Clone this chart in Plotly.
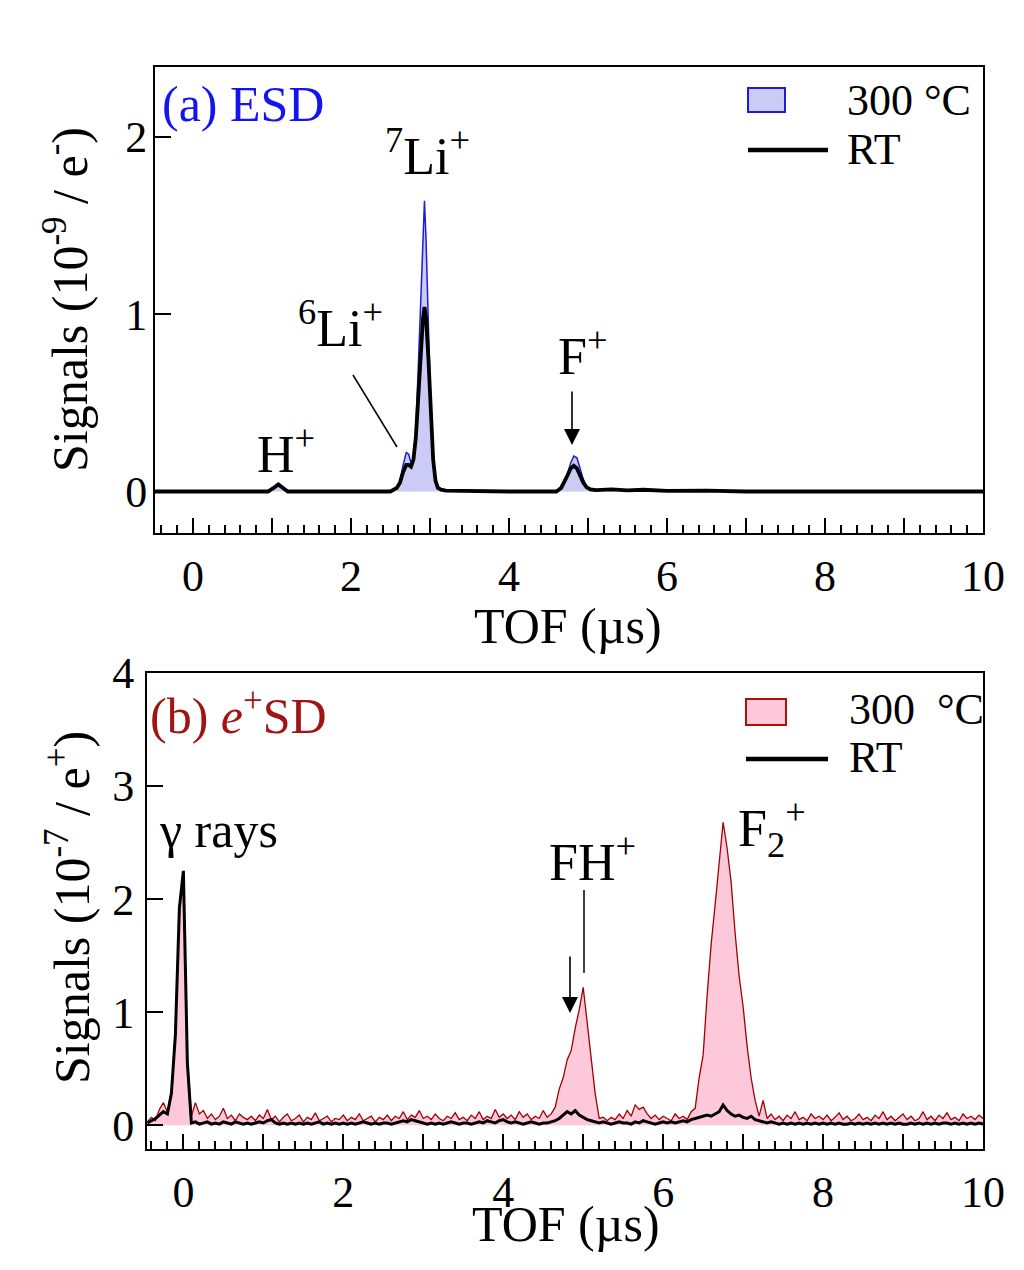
import plotly.graph_objects as go

W, H = 1024, 1270
FONT = "Liberation Serif"
PAGE_OFFSET = 8  # default body margin of the html page

# ---------------- Panel (a): ESD ----------------
TOF_A = [-0.49, 0.50, 0.95, 1.02, 1.08, 1.14, 1.20, 2.00, 2.50, 2.58,
         2.62, 2.66, 2.70, 2.73, 2.76, 2.79, 2.82, 2.85, 2.88, 2.91,
         2.93, 2.95, 2.98, 3.01, 3.04, 3.07, 3.10, 3.14, 3.20, 4.00,
         4.60, 4.66, 4.70, 4.74, 4.78, 4.82, 4.86, 4.90, 4.94, 4.98,
         5.03, 5.10, 5.30, 5.50, 5.70, 6.00, 6.50, 7.00, 8.00, 9.00, 10.00]
ESD_300C = [0.0, 0.0, 0.0, 0.02, 0.045, 0.02, 0.0, 0.0, 0.0, 0.02,
            0.06, 0.15, 0.22, 0.21, 0.16, 0.18, 0.35, 0.68, 1.05, 1.45,
            1.64, 1.42, 0.95, 0.45, 0.20, 0.08, 0.03, 0.012, 0.005, 0.0,
            0.0, 0.02, 0.05, 0.10, 0.16, 0.20, 0.19, 0.13, 0.07, 0.03,
            0.012, 0.005, 0.01, 0.005, 0.008, 0.005, 0.003, 0.0, 0.0, 0.0, 0.0]
ESD_RT = [0.0, 0.0, 0.0, 0.02, 0.04, 0.02, 0.0, 0.0, 0.0, 0.02,
          0.05, 0.11, 0.15, 0.15, 0.14, 0.18, 0.30, 0.52, 0.78, 0.97,
          1.04, 0.98, 0.75, 0.42, 0.18, 0.06, 0.02, 0.01, 0.005, 0.0,
          0.0, 0.02, 0.05, 0.09, 0.13, 0.145, 0.13, 0.09, 0.05, 0.025,
          0.012, 0.008, 0.012, 0.006, 0.01, 0.004, 0.005, 0.0, 0.0, 0.0, 0.0]

# ---------------- Panel (b): e+SD (TOF bins of 0.05 us from -0.45 us) ----------------
TOF_B_START = -0.45
TOF_B_STEP = 0.05
EPSD_300C = [
    0.03, 0.07, 0.04, 0.14, 0.20, 0.12, 0.30, 0.85, 1.95, 2.22,   # -0.45 .. 0.00
    0.60, 0.08, 0.20, 0.10, 0.13, 0.06, 0.10, 0.05, 0.08, 0.15,   # 0.05 .. 0.50
    0.06, 0.09, 0.04, 0.10, 0.07, 0.05, 0.08, 0.04, 0.09, 0.06,   # 0.55 .. 1.00
    0.14, 0.05, 0.08, 0.03, 0.07, 0.10, 0.04, 0.06, 0.09, 0.03,   # 1.05 .. 1.50
    0.07, 0.05, 0.11, 0.04, 0.06, 0.08, 0.03, 0.06, 0.05, 0.09,   # 1.55 .. 2.00
    0.04, 0.07, 0.05, 0.10, 0.04, 0.06, 0.08, 0.03, 0.07, 0.05,   # 2.05 .. 2.50
    0.09, 0.04, 0.08, 0.06, 0.12, 0.05, 0.09, 0.07, 0.13, 0.06,   # 2.55 .. 3.00
    0.08, 0.05, 0.10, 0.06, 0.04, 0.08, 0.06, 0.11, 0.05, 0.07,   # 3.05 .. 3.50
    0.04, 0.09, 0.06, 0.12, 0.05, 0.08, 0.06, 0.14, 0.07, 0.10,   # 3.55 .. 4.00
    0.06, 0.09, 0.05, 0.12, 0.07, 0.10, 0.05, 0.08, 0.06, 0.13,   # 4.05 .. 4.50
    0.07, 0.10, 0.16, 0.32, 0.42, 0.58, 0.66, 0.86, 1.02, 1.22,   # 4.55 .. 5.00
    0.92, 0.62, 0.28, 0.06, 0.07, 0.04, 0.07, 0.05, 0.10, 0.06,   # 5.05 .. 5.50
    0.13, 0.08, 0.18, 0.14, 0.16, 0.10, 0.06, 0.09, 0.05, 0.08,   # 5.55 .. 6.00
    0.06, 0.04, 0.10, 0.06, 0.08, 0.05, 0.12, 0.15, 0.42, 0.62,   # 6.05 .. 6.50
    1.15, 1.60, 1.95, 2.35, 2.68, 2.45, 2.15, 1.70, 1.32, 1.05,   # 6.55 .. 7.00
    0.70, 0.42, 0.22, 0.08, 0.22, 0.06, 0.10, 0.05, 0.08, 0.04,   # 7.05 .. 7.50
    0.09, 0.06, 0.12, 0.05, 0.07, 0.04, 0.10, 0.06, 0.08, 0.05,   # 7.55 .. 8.00
    0.09, 0.04, 0.07, 0.11, 0.05, 0.08, 0.04, 0.06, 0.10, 0.05,   # 8.05 .. 8.50
    0.07, 0.04, 0.09, 0.06, 0.12, 0.05, 0.08, 0.04, 0.07, 0.10,   # 8.55 .. 9.00
    0.05, 0.08, 0.04, 0.06, 0.12, 0.05, 0.08, 0.04, 0.09, 0.06,   # 9.05 .. 9.50
    0.11, 0.05, 0.07, 0.04, 0.10, 0.06, 0.08, 0.05, 0.09, 0.06,   # 9.55 .. 10.00
]
EPSD_RT = [
    0.02, 0.04, 0.06, 0.09, 0.12, 0.10, 0.28, 0.80, 1.92, 2.25,
    0.55, 0.02, 0.03, 0.01, 0.02, 0.03, 0.01, 0.02, 0.01, 0.03,
    0.02, 0.01, 0.03, 0.02, 0.01, 0.02, 0.01, 0.02, 0.03, 0.02,
    0.04, 0.05, 0.02, 0.01, 0.02, 0.01, 0.02, 0.01, 0.02, 0.01,
    0.02, 0.01, 0.02, 0.03, 0.01, 0.02, 0.01, 0.02, 0.01, 0.02,
    0.01, 0.02, 0.01, 0.02, 0.03, 0.02, 0.01, 0.02, 0.01, 0.02,
    0.02, 0.01, 0.02, 0.03, 0.04, 0.03, 0.05, 0.04, 0.03, 0.02,
    0.01, 0.02, 0.01, 0.02, 0.01, 0.02, 0.03, 0.02, 0.01, 0.02,
    0.02, 0.01, 0.02, 0.03, 0.02, 0.04, 0.03, 0.02, 0.04, 0.05,
    0.03, 0.02, 0.03, 0.02, 0.01, 0.02, 0.03, 0.02, 0.01, 0.02,
    0.02, 0.03, 0.04, 0.06, 0.09, 0.12, 0.10, 0.13, 0.09, 0.07,
    0.05, 0.04, 0.03, 0.02, 0.03, 0.02, 0.01, 0.02, 0.03, 0.02,
    0.02, 0.01, 0.03, 0.02, 0.04, 0.03, 0.02, 0.01, 0.02, 0.03,
    0.02, 0.03, 0.02, 0.03, 0.04, 0.03, 0.05, 0.06, 0.07, 0.08,
    0.09, 0.08, 0.10, 0.12, 0.18, 0.13, 0.10, 0.08, 0.09, 0.07,
    0.06, 0.08, 0.05, 0.04, 0.03, 0.02, 0.03, 0.02, 0.01, 0.02,
    0.01, 0.02, 0.01, 0.02, 0.01, 0.02, 0.01, 0.02, 0.01, 0.02,
    0.01, 0.02, 0.01, 0.02, 0.01, 0.01, 0.02, 0.01, 0.02, 0.01,
    0.02, 0.01, 0.02, 0.01, 0.02, 0.01, 0.02, 0.01, 0.02, 0.01,
    0.01, 0.02, 0.01, 0.02, 0.01, 0.02, 0.01, 0.02, 0.01, 0.02,
    0.02, 0.01, 0.02, 0.01, 0.02, 0.01, 0.02, 0.01, 0.02, 0.01,
]
TOF_B = [round(TOF_B_START + i * TOF_B_STEP, 2) for i in range(len(EPSD_300C))]

X_TICK_LABELS = [0, 2, 4, 6, 8, 10]
X_TICK_POS = list(range(0, 11))
Y_TICKS_A = [0, 1, 2]
Y_TICKS_B = [0, 1, 2, 3, 4]

BLUE_LINE = "#1c1cd8"
BLUE_FILL = "#cbcbf6"
RED_LINE = "#a00000"
RED_FILL = "#fdc8da"


def px(x):
    return (x - PAGE_OFFSET) / W


def py(y):
    return 1 - (y - PAGE_OFFSET) / H


fig = go.Figure()
fig.add_trace(go.Scatter(x=TOF_A, y=ESD_300C, mode="lines", fill="tozeroy",
                         fillcolor=BLUE_FILL, line=dict(color=BLUE_LINE, width=1.5),
                         xaxis="x", yaxis="y", hoverinfo="skip"))
fig.add_trace(go.Scatter(x=TOF_A, y=ESD_RT, mode="lines",
                         line=dict(color="black", width=3.8),
                         xaxis="x", yaxis="y", hoverinfo="skip"))
fig.add_trace(go.Scatter(x=TOF_B, y=EPSD_300C, mode="lines", fill="tozeroy",
                         fillcolor=RED_FILL, line=dict(color=RED_LINE, width=1.3),
                         xaxis="x2", yaxis="y2", hoverinfo="skip"))
fig.add_trace(go.Scatter(x=TOF_B, y=EPSD_RT, mode="lines",
                         line=dict(color="black", width=3),
                         xaxis="x2", yaxis="y2", hoverinfo="skip"))

tick_text = [str(v) if v in X_TICK_LABELS else "" for v in X_TICK_POS]


def xax(dom, rng, anchor):
    return dict(domain=dom, range=rng, anchor=anchor, automargin=False, showline=True,
                linecolor="black", linewidth=2, mirror=True, ticks="inside", ticklen=15,
                tickwidth=1.5, tickcolor="black", tickmode="array", tickvals=X_TICK_POS,
                ticktext=tick_text, tickfont=dict(family=FONT, size=44, color="black"),
                showgrid=False, zeroline=False, ticklabelstandoff=3,
                minor=dict(ticks="inside", ticklen=8, tickwidth=1.5, tickcolor="black",
                           tickmode="linear", tick0=0, dtick=0.2, showgrid=False))


def yax(dom, rng, anchor, vals, standoff):
    return dict(domain=dom, range=rng, anchor=anchor, automargin=False, showline=True,
                linecolor="black", linewidth=2, mirror=True, ticks="inside", ticklen=16,
                tickwidth=1.5, tickcolor="black", tickmode="array", tickvals=vals,
                tickfont=dict(family=FONT, size=44, color="black"), showgrid=False,
                zeroline=False, ticklabelstandoff=standoff)


fig.update_layout(
    template="none",
    width=W, height=H, margin=dict(l=0, r=0, t=0, b=0, pad=0, autoexpand=False),
    paper_bgcolor="white", plot_bgcolor="white", showlegend=False,
    font=dict(family=FONT, color="black"),
    xaxis=xax([px(155), px(983)], [-0.481, 10], "y"),
    yaxis=yax([py(533), py(67)], [-0.234, 2.394], "x", Y_TICKS_A, -3),
    xaxis2=xax([px(147), px(983)], [-0.455, 10], "y2"),
    yaxis2=yax([py(1149), py(673)], [-0.21, 4.0], "x2", Y_TICKS_B, 2),
)

ann = []


def text(t, x, y, size=50, color="black", xanchor="center", yanchor="middle", angle=0):
    ann.append(dict(text=t, x=px(x), y=py(y), xref="paper", yref="paper", showarrow=False,
                    xanchor=xanchor, yanchor=yanchor, textangle=angle,
                    font=dict(family=FONT, size=size, color=color)))


# axis titles
text("TOF (µs)", 568, 626)
text("TOF (µs)", 566, 1224)
text("Signals (10<sup>-9</sup> / e<sup>-</sup>)", 67, 300, angle=-90)
text("Signals (10<sup>-7</sup> / e<sup>+</sup>)", 68, 908, angle=-90)

# panel (a)
text("(a) ESD", 160, 104, color="#1414ee", xanchor="left")
text("<sup>7</sup>Li<sup>+</sup>", 427, 152, size=52)
text("<sup>6</sup>Li<sup>+</sup>", 340, 324, size=52)
text("H<sup>+</sup>", 286, 450, size=52)
text("F<sup>+</sup>", 582, 352, size=52)
text("300 °C", 845, 100, size=44, xanchor="left")
text("RT", 845, 150, size=44, xanchor="left")

# panel (b)
text("(b) <i>e</i><sup>+</sup>SD", 148, 712, color="#a01414", xanchor="left")
text("γ rays", 218, 830, size=50)
text("FH<sup>+</sup>", 592, 858, size=52)
text("F<sub>2</sub><sup>+</sup>", 772, 828, size=52)
text("300  °C", 847, 710, size=44, xanchor="left")
text("RT", 847, 758, size=44, xanchor="left")

# arrows
for hx, hy, ay in [(572, 445, -55), (570, 1013, -58)]:
    ann.append(dict(text="", x=px(hx), y=py(hy), xref="paper", yref="paper", showarrow=True,
                    ax=0, ay=ay, arrowhead=2, arrowsize=2, arrowwidth=1.6,
                    arrowcolor="black", standoff=0))

fig.update_layout(annotations=ann)

shapes = [
    # legend (a)
    dict(type="rect", x0=px(748), x1=px(785), y0=py(112), y1=py(88), xref="paper", yref="paper",
         fillcolor=BLUE_FILL, line=dict(color=BLUE_LINE, width=2)),
    dict(type="line", x0=px(748), x1=px(828), y0=py(150), y1=py(150), xref="paper", yref="paper",
         line=dict(color="black", width=4.5)),
    # legend (b)
    dict(type="rect", x0=px(746), x1=px(786), y0=py(725), y1=py(699), xref="paper", yref="paper",
         fillcolor=RED_FILL, line=dict(color="#b01010", width=2)),
    dict(type="line", x0=px(746), x1=px(828), y0=py(759), y1=py(759), xref="paper", yref="paper",
         line=dict(color="black", width=4.5)),
    # pointer lines
    dict(type="line", x0=px(353), x1=px(397), y0=py(375), y1=py(447), xref="paper", yref="paper",
         line=dict(color="black", width=1.5)),
    dict(type="line", x0=px(584), x1=px(584), y0=py(890), y1=py(973), xref="paper", yref="paper",
         line=dict(color="black", width=1.5)),
]
fig.update_layout(shapes=shapes)

fig.write_html("out.html")
